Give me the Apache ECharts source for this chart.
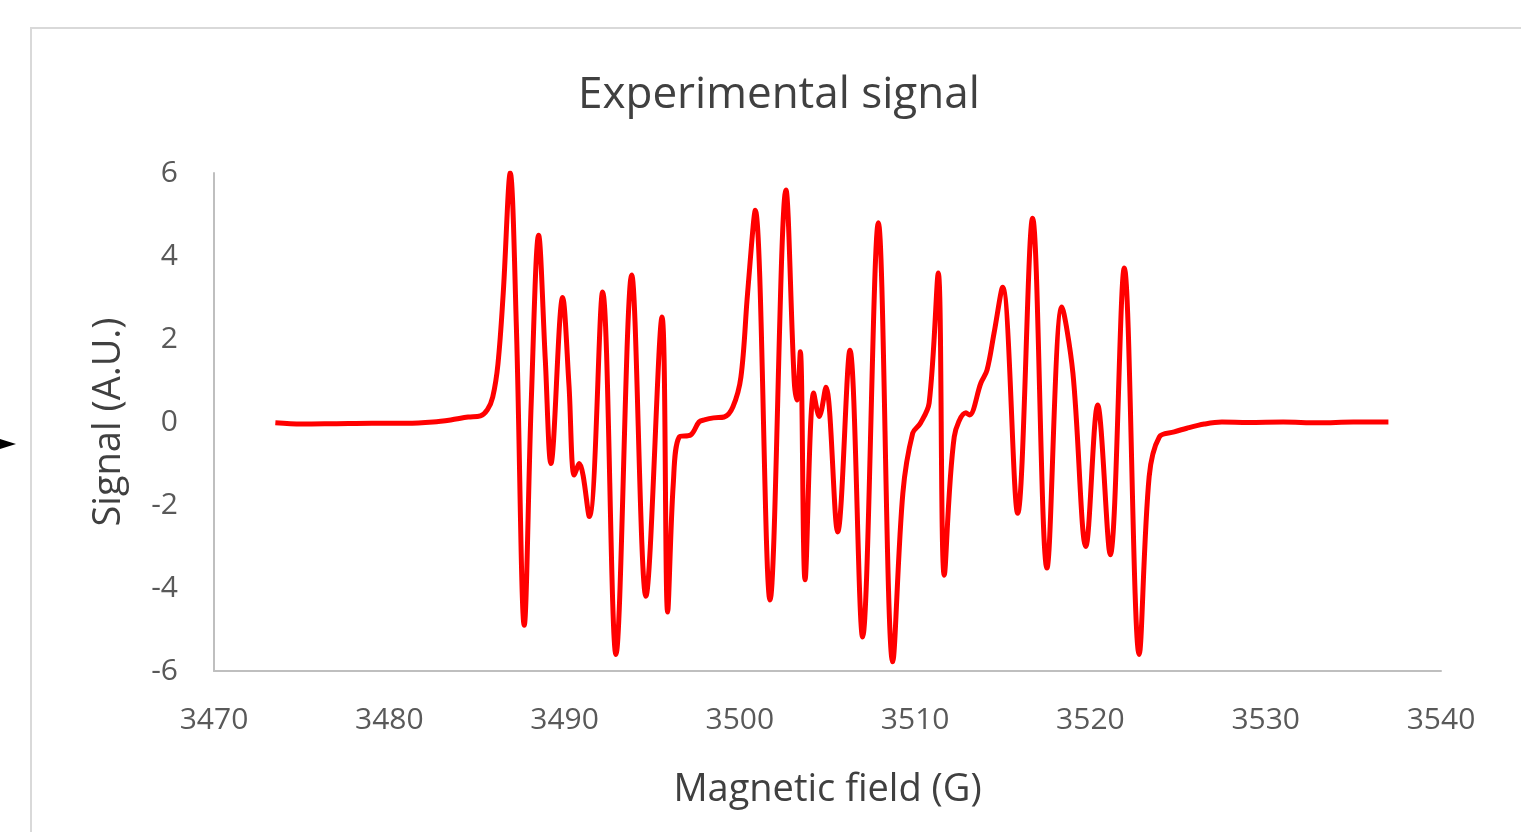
<!DOCTYPE html>
<html>
<head>
<meta charset="utf-8">
<script src="https://cdn.jsdelivr.net/npm/echarts@6/dist/echarts.min.js"></script>
<style>
  html, body { margin: 0; padding: 0; background: #fff; }
  #chart { width: 1521px; height: 832px; }
</style>
</head>
<body>
<div id="chart"></div>
<script>
  // magnetic field (G) and signal (A.U.)
  const field = [
    3473.5, 3475, 3477, 3479, 3481, 3482.5, 3483.5, 3484.5, 3485.2, 3485.6,
    3485.9, 3486.2, 3486.5, 3486.9, 3487.25, 3487.7, 3488.1, 3488.52, 3488.9, 3489.22,
    3489.89, 3490.25, 3490.55, 3490.84, 3491.41, 3492.17, 3492.93, 3493.83, 3494.64, 3495.56,
    3495.88, 3496.2, 3496.54, 3497.2, 3497.67, 3497.97, 3498.5, 3499.1, 3499.6, 3500.06,
    3500.44, 3500.88, 3501.72, 3502.63, 3503.1, 3503.26, 3503.45, 3503.72, 3504.21, 3504.53,
    3504.91, 3505.58, 3506.28, 3507.0, 3507.9, 3508.72, 3509.3, 3509.86, 3510.3, 3510.8,
    3511.32, 3511.66, 3512.23, 3512.9, 3513.1, 3513.75, 3514.1, 3514.5, 3514.99, 3515.85,
    3516.7, 3517.52, 3518.37, 3519.0, 3519.74, 3520.41, 3521.13, 3521.93, 3522.78, 3523.35,
    3523.93, 3524.78, 3525.5, 3526.5, 3527.5, 3529, 3531, 3533, 3535, 3537
  ];
  const signal = [
    -0.02, -0.05, -0.04, -0.03, -0.03, 0.0, 0.05, 0.12, 0.15, 0.3,
    0.6, 1.4, 3.1, 6.0, 2.3, -4.9, 0.5, 4.5, 1.5, -1.0,
    3.0, 0.9, -1.28, -1.0, -2.28, 3.13, -5.6, 3.54, -4.2, 2.53,
    -4.58, -1.5, -0.36, -0.31, 0.0, 0.05, 0.1, 0.12, 0.36, 1.08,
    3.1, 5.1, -4.29, 5.59, 1.0, 0.53, 1.69, -3.8, 0.7, 0.13,
    0.84, -2.65, 1.73, -5.18, 4.8, -5.78, -1.71, -0.27, -0.03, 0.46,
    3.59, -3.69, -0.36, 0.22, 0.17, 0.94, 1.25, 2.14, 3.25, -2.2,
    4.91, -3.52, 2.77, 1.18, -3.0, 0.41, -3.2, 3.71, -5.6, -1.32,
    -0.36, -0.24, -0.15, -0.05, 0.0, -0.01, 0.0, -0.02, 0.0, 0.0
  ];

  const chart = echarts.init(document.getElementById('chart'));
  const font = '"Open Sans", "Liberation Sans", sans-serif';

  chart.setOption({
    animation: false,
    title: {
      text: 'Experimental signal',
      left: 573,
      top: 68,
      textStyle: { color: '#404040', fontSize: 44, fontWeight: 'normal', fontFamily: font }
    },
    graphic: [
      {
        type: 'rect',
        shape: { x: 31, y: 28, width: 1600, height: 900 },
        style: { fill: 'none', stroke: '#d9d9d9', lineWidth: 2 }
      },
      {
        type: 'polygon',
        shape: { points: [[0, 439], [16, 444], [0, 449]] },
        style: { fill: '#000' }
      }
    ],
    grid: { left: 214, right: 80, top: 173, bottom: 161 },
    xAxis: {
      type: 'value',
      min: 3470,
      max: 3540,
      interval: 10,
      name: 'Magnetic field (G)',
      nameLocation: 'middle',
      nameGap: 100,
      nameTextStyle: { color: '#404040', fontSize: 38, fontFamily: font },
      axisLine: { onZero: false, lineStyle: { color: '#bfbfbf', width: 2 } },
      axisTick: { show: false },
      splitLine: { show: false },
      axisLabel: { color: '#595959', fontSize: 30, fontFamily: font, margin: 34, formatter: v => String(v) }
    },
    yAxis: {
      type: 'value',
      min: -6,
      max: 6,
      interval: 2,
      name: 'Signal (A.U.)',
      nameLocation: 'middle',
      nameGap: 86,
      nameTextStyle: { color: '#404040', fontSize: 38, fontFamily: font },
      axisLine: { show: true, onZero: false, lineStyle: { color: '#bfbfbf', width: 2 } },
      axisTick: { show: false },
      splitLine: { show: false },
      axisLabel: { color: '#595959', fontSize: 30, fontFamily: font, margin: 36 }
    },
    series: [{
      type: 'line',
      data: field.map((f, i) => [f, signal[i]]),
      showSymbol: false,
      smooth: 0.35,
      lineStyle: { color: '#ff0000', width: 5 }
    }]
  });
</script>
</body>
</html>
